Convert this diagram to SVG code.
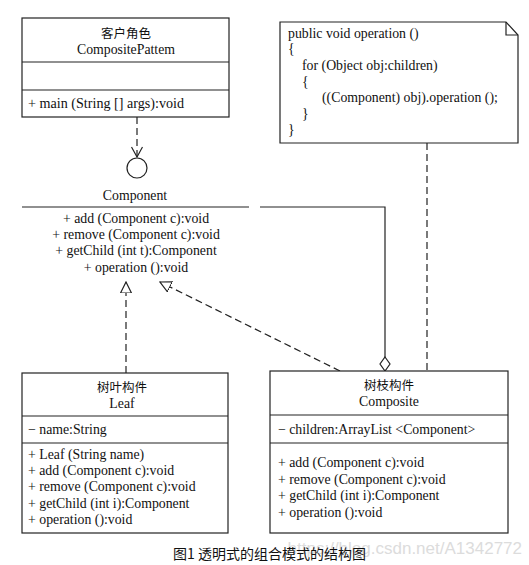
<svg xmlns="http://www.w3.org/2000/svg" width="529" height="565" viewBox="0 0 529 565">
<defs>
<style>
.box{fill:#fff;stroke:#222;stroke-width:1.2}
.ln{stroke:#222;stroke-width:1.2;fill:none}
.dash{stroke:#222;stroke-width:1.2;fill:none;stroke-dasharray:7,4}
.t{font-family:"Liberation Serif","Noto Sans CJK SC",serif;font-size:13.8px;fill:#111}
.c{text-anchor:middle}
.cjk{font-family:"Noto Sans CJK SC","Liberation Serif",sans-serif;font-size:12.5px;fill:#111}
</style>
<marker id="tri" viewBox="0 0 12 12" refX="11" refY="6" markerWidth="12" markerHeight="12" markerUnits="userSpaceOnUse" orient="auto">
<path d="M0,0.5 L11,6 L0,11.5 Z" fill="#fff" stroke="#222" stroke-width="1.2"/>
</marker>
<marker id="vee" viewBox="0 0 12 12" refX="11" refY="6" markerWidth="12" markerHeight="12" markerUnits="userSpaceOnUse" orient="auto">
<path d="M1,0.5 L11,6 L1,11.5" fill="none" stroke="#222" stroke-width="1.2"/>
</marker>
<marker id="dia" viewBox="0 0 16 12" refX="15" refY="6" markerWidth="16" markerHeight="12" markerUnits="userSpaceOnUse" orient="auto">
<path d="M1,6 L8,1 L15,6 L8,11 Z" fill="#fff" stroke="#222" stroke-width="1.2"/>
</marker>
</defs>
<rect width="529" height="565" fill="#fff"/>

<g id="connectors">
<line class="dash" x1="137" y1="117" x2="137" y2="157" marker-end="url(#vee)"/>
<line class="dash" x1="126" y1="373" x2="126" y2="282" marker-end="url(#tri)"/>
<line class="dash" x1="340" y1="371" x2="160" y2="282" marker-end="url(#tri)"/>
<polyline class="ln" points="260,207 385,207 385,371" marker-end="url(#dia)"/>
<line class="dash" x1="427" y1="143" x2="427" y2="371"/>
</g>

<g id="client">
<rect class="box" x="22" y="18" width="207" height="99"/>
<line class="ln" x1="22" y1="62" x2="229" y2="62"/>
<line class="ln" x1="22" y1="90" x2="229" y2="90"/>
<text class="cjk c" x="126" y="38">客户角色</text>
<text class="t c" x="126" y="54">CompositePattem</text>
<text class="t" x="28" y="108" textLength="156" lengthAdjust="spacingAndGlyphs">+ main (String [] args):void</text>
</g>

<g id="component">
<circle cx="137" cy="168" r="10" fill="#fff" stroke="#222" stroke-width="1.2"/>
<text class="t c" x="135" y="200">Component</text>
<line class="ln" x1="22" y1="207" x2="249" y2="207"/>
<text class="t c" x="136" y="223">+ add (Component c):void</text>
<text class="t c" x="136" y="239">+ remove (Component c):void</text>
<text class="t c" x="136" y="255">+ getChild (int t):Component</text>
<text class="t c" x="136" y="272">+ operation ():void</text>
</g>

<g id="note">
<path class="box" d="M280,22 L506,22 L518,35 L518,143 L280,143 Z"/>
<path class="ln" d="M506,22 L506,35 L518,35"/>
<text class="t" x="288" y="38">public void operation ()</text>
<text class="t" x="288" y="53">{</text>
<text class="t" x="302" y="70">for (Object obj:children)</text>
<text class="t" x="302" y="86">{</text>
<text class="t" x="322" y="102">((Component) obj).operation ();</text>
<text class="t" x="302" y="118">}</text>
<text class="t" x="288" y="134">}</text>
</g>

<g id="leaf">
<rect class="box" x="22" y="373" width="206" height="160"/>
<line class="ln" x1="22" y1="416" x2="228" y2="416"/>
<line class="ln" x1="22" y1="443" x2="228" y2="443"/>
<text class="cjk c" x="122" y="392">树叶构件</text>
<text class="t c" x="122" y="408">Leaf</text>
<text class="t" x="28" y="434">− name:String</text>
<text class="t" x="28" y="459">+ Leaf (String name)</text>
<text class="t" x="28" y="475">+ add (Component c):void</text>
<text class="t" x="28" y="491">+ remove (Component c):void</text>
<text class="t" x="28" y="508">+ getChild (int i):Component</text>
<text class="t" x="28" y="524">+ operation ():void</text>
</g>

<g id="composite">
<rect class="box" x="270" y="371" width="238" height="162"/>
<line class="ln" x1="270" y1="415" x2="508" y2="415"/>
<line class="ln" x1="270" y1="443" x2="508" y2="443"/>
<text class="cjk c" x="389" y="390">树枝构件</text>
<text class="t c" x="389" y="406">Composite</text>
<text class="t" x="278" y="434">− children:ArrayList &lt;Component&gt;</text>
<text class="t" x="278" y="467">+ add (Component c):void</text>
<text class="t" x="278" y="484">+ remove (Component c):void</text>
<text class="t" x="278" y="500">+ getChild (int i):Component</text>
<text class="t" x="278" y="517">+ operation ():void</text>
</g>

<text x="522" y="554" text-anchor="end" style="font-family:'Liberation Sans',sans-serif;font-size:17px;fill:#dcdcdc">https://blog.csdn.net/A1342772</text>
<text x="173" y="559" style="font-family:'Noto Sans CJK SC',sans-serif;font-size:14px;fill:#111">图1 透明式的组合模式的结构图</text>
</svg>
